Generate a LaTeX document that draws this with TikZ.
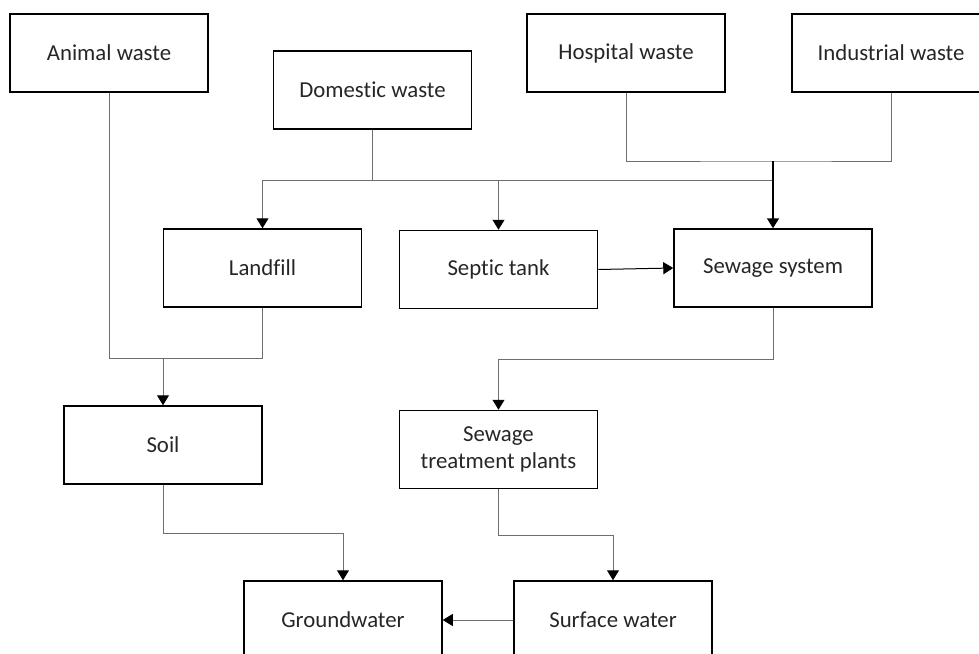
\documentclass[tikz,border=0pt]{standalone}
\usepackage{fontspec}
\setmainfont{Carlito}[Ligatures={NoCommon,NoRare}]
\usetikzlibrary{arrows.meta,positioning}
\definecolor{connc}{RGB}{110,110,110}
\tikzset{
  box/.style={draw=black, line width=1.5pt, minimum width=198pt, minimum height=78pt, inner sep=0pt, align=center, font=\fontsize{22.8}{27}\selectfont, text=black!85},
  conn/.style={draw=connc, line width=1pt},
  tip/.style={-{Triangle[width=12pt,length=10pt,color=black]}},
  arr/.style={conn, tip},
  darr/.style={draw=black, line width=1pt, tip},
  tarr/.style={draw=black, line width=1.6pt, -{Triangle[width=12pt,length=10pt,color=black]}}
}
\begin{document}
\begin{tikzpicture}[x=1pt,y=-1pt]
\useasboundingbox (0,0) rectangle (979,653);
\node[box] (an) at (109,53) {Animal waste};
\node[box] (dom) at (372.5,90) {Domestic waste};
\node[box] (hos) at (626,53) {Hospital waste};
\node[box] (ind) at (891,53) {Industrial waste};
\node[box] (lf) at (262.5,268) {Landfill};
\node[box] (st) at (498.5,269.5) {Septic tank};
\node[box] (sew) at (773,268) {Sewage system};
\node[box] (soil) at (163,445) {Soil};
\node[box] (stp) at (498.5,449.5) {Sewage\\treatment plants};
\node[box] (gw) at (343,620) {Groundwater};
\node[box] (sw) at (613,620) {Surface water};
% junctions
\coordinate (dj) at (372.5,180);
\coordinate (sj) at (773,180);
\coordinate (hj) at (773,161);
\coordinate (aj) at (163,358);
% domestic
\draw[conn] (dom.south) -- (dj);
\draw[arr] (dj) -| (lf.north);
\draw[conn] (dj) -- (sj);
\draw[arr] (st.north |- dj) -- (st.north);
% hospital and industrial
\draw[conn] (hos.south) |- (hj) -| (ind.south);
\draw[tarr] (hj) -- (sew.north);
% septic to sewage
\draw[darr] (st.east) -- (sew.west);
% animal and landfill to soil
\draw[conn] (an.south) |- (aj);
\draw[conn] (lf.south) |- (aj);
\draw[arr] (aj) -- (soil.north);
% sewage to treatment
\draw[arr] (sew.south) -- ++(0,52) -| (stp.north);
% soil to groundwater
\draw[arr] (soil.south) -- ++(0,49) -| (gw.north);
% treatment to surface water
\draw[arr] (stp.south) -- ++(0,46) -| (sw.north);
% surface to groundwater
\draw[arr] (sw.west) -- (gw.east);
\end{tikzpicture}
\end{document}
